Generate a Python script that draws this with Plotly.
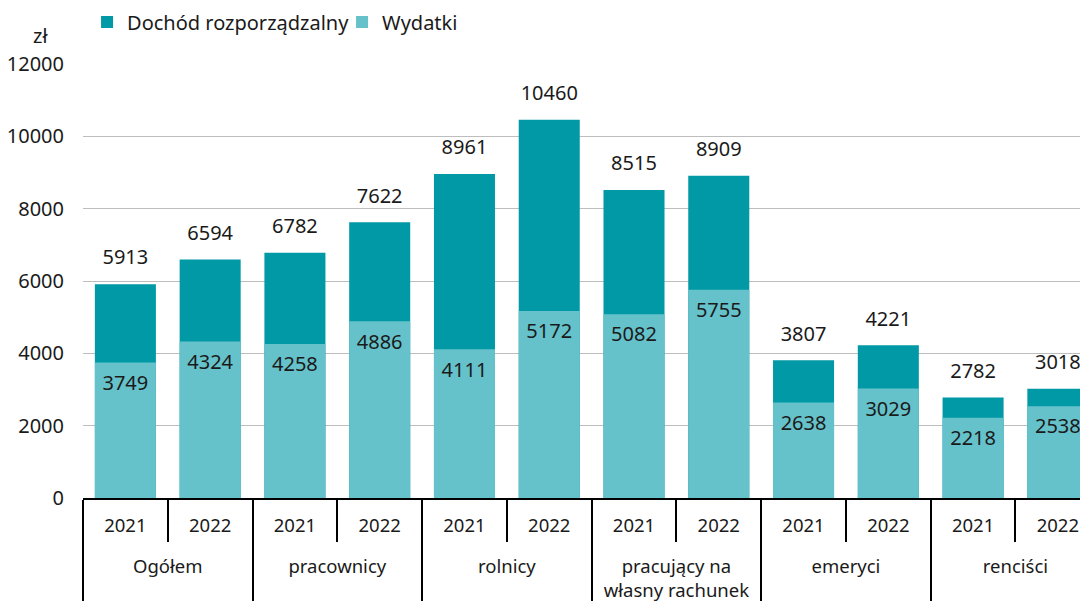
import plotly.graph_objects as go

groups = ["Ogółem", "pracownicy", "rolnicy", "pracujący na<br>własny rachunek", "emeryci", "renciści"]
years = ["2021", "2022"]
dochod = [5913, 6594, 6782, 7622, 8961, 10460, 8515, 8909, 3807, 4221, 2782, 3018]
wydatki = [3749, 4324, 4258, 4886, 4111, 5172, 5082, 5755, 2638, 3029, 2218, 2538]

# leading empty line pushes the group row below the year ticks
xg = ["<br>" + g for g in groups for _ in years]
xy = [y for _ in groups for y in years]
x = [xg, xy]

DARK = "#0099A5"
LIGHT = "#66C2CA"
FONT = "Noto Sans"
FS = 20
FSX = 18.5

fig = go.Figure()
fig.add_trace(go.Bar(x=x, y=dochod, name="Dochód rozporządzalny", marker=dict(color=DARK, line_width=0),
                     width=0.72, hoverinfo="skip"))
fig.add_trace(go.Bar(x=x, y=wydatki, name="Wydatki", marker=dict(color=LIGHT, line_width=0),
                     width=0.72, hoverinfo="skip"))
fig.add_trace(go.Scatter(x=x, y=dochod, mode="markers+text", text=[str(v) for v in dochod],
                         textposition="top center", marker=dict(size=22, opacity=0),
                         textfont=dict(family=FONT, size=FS, color="#1a1a1a"),
                         showlegend=False, hoverinfo="skip"))
fig.add_trace(go.Scatter(x=x, y=wydatki, mode="markers+text", text=[str(v) for v in wydatki],
                         textposition="bottom center", marker=dict(size=18, opacity=0),
                         textfont=dict(family=FONT, size=FS, color="#1a1a1a"),
                         showlegend=False, hoverinfo="skip"))

fig.update_layout(
    width=1088, height=601,
    barmode="overlay",
    margin=dict(l=75, r=0, t=56, b=111, autoexpand=False),
    plot_bgcolor="white", paper_bgcolor="white",
    font=dict(family=FONT, size=FS, color="#1a1a1a"),
    legend=dict(orientation="h", x=0.004, y=1.097, xanchor="left", yanchor="middle",
                font=dict(family=FONT, size=FS), itemwidth=30, traceorder="normal",
                entrywidth=210, entrywidthmode="pixels"),
    showlegend=True,
    annotations=[dict(text="zł", xref="paper", yref="paper", x=-0.0424, y=1.0668,
                      showarrow=False, font=dict(family=FONT, size=FS), xanchor="center", yanchor="middle")],
)
fig.update_yaxes(range=[0, 12000], dtick=2000, tickformat="d", gridcolor="#BDBDBD", gridwidth=1.2,
                 zeroline=False, showline=False, ticks="", ticklabelstandoff=18, automargin=False,
                 tickfont=dict(family=FONT, size=FS))
fig.update_xaxes(type="multicategory", range=[-0.5, 11.45], showline=True, linecolor="black",
                 linewidth=1.5, ticks="outside", ticklen=42, tickwidth=1.5, tickcolor="black",
                 ticklabelstandoff=10,
                 showdividers=True, dividercolor="black", dividerwidth=1.5, automargin=False,
                 tickfont=dict(family=FONT, size=FSX), showgrid=False)

fig.write_html("out.html")
